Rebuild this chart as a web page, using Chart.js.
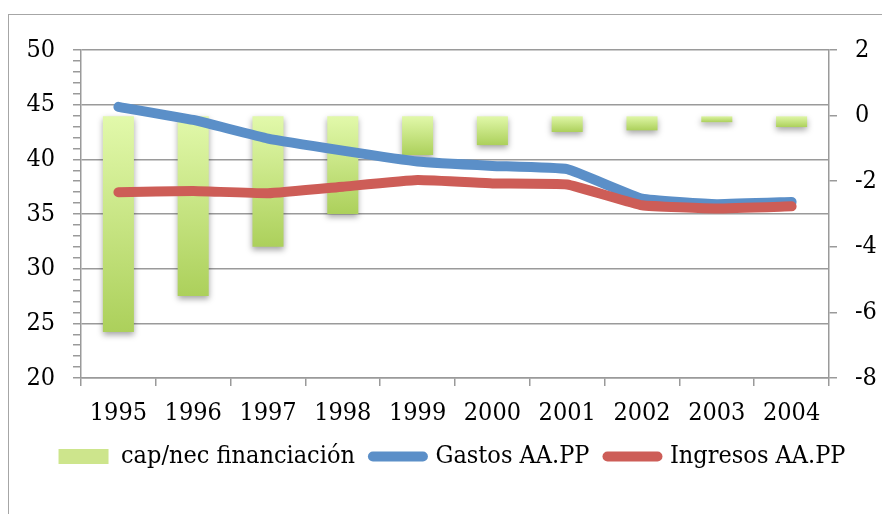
<!DOCTYPE html>
<html>
<head>
<meta charset="utf-8">
<script src="https://cdn.jsdelivr.net/npm/chart.js@4.4.1/dist/chart.umd.min.js"></script>
<style>
  html, body { margin: 0; padding: 0; background: #fff; }
  #wrap { position: relative; width: 882px; height: 514px; overflow: hidden; }
  #frame { position: absolute; left: 8px; top: 14px; width: 900px; height: 600px; border: 1.5px solid #a6a6a6; }
  #chart { position: absolute; left: 0; top: 0; }
</style>
</head>
<body>
<div id="wrap">
  <div id="frame"></div>
  <canvas id="chart" width="882" height="514"></canvas>
</div>
<script>
const years = ['1995', '1996', '1997', '1998', '1999', '2000', '2001', '2002', '2003', '2004'];
const capNec = [-6.6, -5.5, -4.0, -3.0, -1.2, -0.9, -0.5, -0.45, -0.2, -0.35];
const gastos = [44.8, 43.6, 41.9, 40.8, 39.8, 39.4, 39.1, 36.4, 35.9, 36.1];
const ingresos = [37.0, 37.1, 36.9, 37.5, 38.1, 37.8, 37.7, 35.8, 35.5, 35.7];

const FONT = { family: '"DejaVu Serif Condensed", "Liberation Serif", serif', size: 25 };
const GRID = '#9a9a9a';

const barShadow = {
    id: 'barShadow',
    beforeDatasetDraw(chart, args) {
        if (args.meta.type !== 'bar') return;
        const ctx = chart.ctx;
        ctx.save();
        ctx.shadowColor = 'rgba(0,0,0,0.35)';
        ctx.shadowBlur = 6;
        ctx.shadowOffsetY = 3;
    },
    afterDatasetDraw(chart, args) {
        if (args.meta.type === 'bar') chart.ctx.restore();
    }
};

function barFill(c) {
    const s = c.chart.scales.y1;
    if (c.type !== 'data' || !s) return '#cde58c';
    const top = s.getPixelForValue(0);
    const bottom = s.getPixelForValue(capNec[c.dataIndex]);
    const g = c.chart.ctx.createLinearGradient(0, top, 0, bottom);
    g.addColorStop(0, '#e2f9ab');
    g.addColorStop(1, '#acd05b');
    return g;
}

new Chart(document.getElementById('chart'), {
    data: {
        labels: years,
        datasets: [{
            type: 'bar',
            label: 'cap/nec financiación',
            data: capNec,
            yAxisID: 'y1',
            backgroundColor: barFill,
            barPercentage: 0.415,
            categoryPercentage: 1,
            order: 3
        }, {
            type: 'line',
            label: 'Gastos AA.PP',
            data: gastos,
            yAxisID: 'y',
            borderColor: '#5b8fc8',
            borderWidth: 10,
            borderCapStyle: 'round',
            borderJoinStyle: 'round',
            tension: 0.1,
            pointRadius: 0,
            order: 2
        }, {
            type: 'line',
            label: 'Ingresos AA.PP',
            data: ingresos,
            yAxisID: 'y',
            borderColor: '#cd5d57',
            borderWidth: 10,
            borderCapStyle: 'round',
            borderJoinStyle: 'round',
            tension: 0.1,
            pointRadius: 0,
            order: 1
        }]
    },
    options: {
        responsive: false,
        animation: false,
        layout: { padding: { top: 50, left: 22, right: 0, bottom: 35 } },
        plugins: {
            tooltip: { enabled: false },
            legend: {
                position: 'bottom',
                labels: {
                    font: FONT,
                    color: '#000',
                    usePointStyle: true,
                    pointStyleWidth: 50,
                    boxHeight: 15,
                    padding: 18,
                    sort: (a, b) => a.datasetIndex - b.datasetIndex,
                    generateLabels: (chart) => chart.data.datasets.map((ds, i) => ({
                        text: ds.label,
                        datasetIndex: i,
                        fillStyle: ds.type === 'bar' ? '#cde58c' : ds.borderColor,
                        strokeStyle: ds.type === 'bar' ? 'rgba(0,0,0,0)' : ds.borderColor,
                        lineWidth: ds.type === 'bar' ? 0 : 10,
                        lineCap: 'round',
                        pointStyle: ds.type === 'bar' ? 'rect' : 'line',
                        hidden: false
                    }))
                }
            }
        },
        scales: {
            x: {
                offset: true,
                grid: { offset: true, drawOnChartArea: false, color: GRID, lineWidth: 1.5, tickLength: 8 },
                border: { color: GRID, width: 1.5 },
                ticks: { font: FONT, color: '#000', padding: 12, maxRotation: 0, autoSkip: false },
                afterFit: (s) => { s.height = 48; }
            },
            y: {
                position: 'left',
                min: 20,
                max: 50,
                grid: {
                    color: (c) => c.tick.value % 5 === 0 ? GRID : 'rgba(0,0,0,0)',
                    tickColor: GRID,
                    lineWidth: 1.5,
                    tickLength: 8
                },
                border: { color: GRID, width: 1.5 },
                ticks: {
                    stepSize: 1,
                    autoSkip: false,
                    font: FONT,
                    color: '#000',
                    padding: 18,
                    callback: (v) => v % 5 === 0 ? v : ''
                },
                afterFit: (s) => { s.width = 59; }
            },
            y1: {
                position: 'right',
                min: -8,
                max: 2,
                grid: { drawOnChartArea: false, color: GRID, lineWidth: 1.5, tickLength: 8 },
                border: { color: GRID, width: 1.5 },
                ticks: { stepSize: 2, font: FONT, color: '#000', padding: 18 },
                afterFit: (s) => { s.width = 53; }
            }
        }
    },
    plugins: [barShadow]
});
</script>
</body>
</html>
